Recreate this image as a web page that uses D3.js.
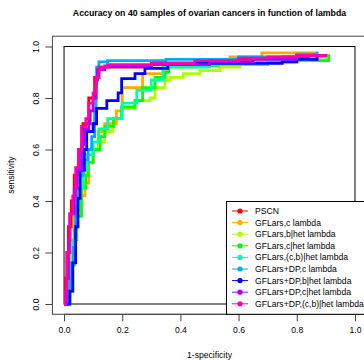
<!DOCTYPE html>
<html><head><meta charset="utf-8">
<script src="https://cdn.jsdelivr.net/npm/d3@7"></script>
<style>body{margin:0;background:#fff}svg{display:block}text{font-family:"Liberation Sans",Arial,Helvetica,sans-serif}</style>
</head><body><svg id="c" width="364" height="360"></svg>
<script>
const title = "Accuracy on 40 samples of ovarian cancers in function of lambda";
const xLabel = "1-specificity";
const yLabel = "sensitivity";
const tickValues = [0, 0.2, 0.4, 0.6, 0.8, 1.0];
const tickLabels = ["0.0", "0.2", "0.4", "0.6", "0.8", "1.0"];
const seriesNames = ["PSCN","GFLars,c lambda","GFLars,b|het lambda","GFLars,c|het lambda","GFLars,(c,b)|het lambda","GFLars+DP,c lambda","GFLars+DP,b|het lambda","GFLars+DP,c|het lambda","GFLars+DP,(c,b)|het lambda"];
const seriesColors = ["#FF0000","#FFAA00","#AAFF00","#00FF00","#00FFAA","#00AAFF","#0000FF","#AA00FF","#FF00AA"];

const pscn = [[0,0],[0.005,0.1],[0.01,0.2],[0.015,0.3],[0.025,0.4],[0.035,0.5],[0.05,0.6],[0.065,0.7],[0.085,0.8],[0.105,0.88],[0.12,0.92],[0.3,0.93],[0.45,0.94],[0.6,0.95],[0.75,0.96],[0.88,0.97]];
const gflarsC = [[0,0],[0.01,0.05],[0.02,0.2],[0.035,0.35],[0.05,0.42],[0.072,0.47],[0.085,0.55],[0.1,0.6],[0.117,0.67],[0.14,0.7],[0.18,0.75],[0.2,0.84],[0.27,0.895],[0.35,0.92],[0.45,0.94],[0.57,0.96],[0.68,0.975],[0.87,0.98]];
const gflarsB = [[0,0],[0.015,0.05],[0.025,0.15],[0.035,0.25],[0.045,0.35],[0.06,0.51],[0.08,0.55],[0.1,0.6],[0.12,0.63],[0.14,0.67],[0.168,0.72],[0.198,0.76],[0.244,0.79],[0.296,0.8],[0.313,0.84],[0.347,0.87],[0.364,0.88],[0.41,0.895],[0.467,0.906],[0.536,0.92],[0.605,0.933],[0.663,0.94],[0.787,0.946],[0.9,0.97]];
const gflarsCHet = [[0,0],[0.02,0.05],[0.03,0.15],[0.035,0.25],[0.043,0.34],[0.06,0.45],[0.075,0.5],[0.083,0.55],[0.1,0.6],[0.124,0.65],[0.14,0.69],[0.17,0.72],[0.198,0.765],[0.244,0.79],[0.27,0.84],[0.313,0.88],[0.347,0.9],[0.36,0.926],[0.53,0.935],[0.7,0.94],[0.8,0.945],[0.91,0.97]];
const gflarsCBHet = [[0,0],[0.01,0.05],[0.02,0.15],[0.03,0.25],[0.04,0.38],[0.05,0.45],[0.065,0.52],[0.08,0.58],[0.1,0.63],[0.12,0.68],[0.15,0.72],[0.2,0.78],[0.25,0.83],[0.3,0.87],[0.34,0.92],[0.5,0.93],[0.7,0.945],[0.85,0.96],[0.9,0.97]];
const dpC = [[0,0],[0.015,0.03],[0.02,0.1],[0.026,0.16],[0.032,0.22],[0.038,0.29],[0.04,0.38],[0.044,0.45],[0.055,0.5],[0.066,0.56],[0.083,0.6],[0.095,0.65],[0.105,0.75],[0.11,0.85],[0.112,0.92],[0.12,0.94],[0.15,0.945],[0.35,0.95],[0.6,0.96],[0.8,0.97],[0.87,0.98]];
const dpB = [[0,0],[0.02,0.05],[0.03,0.16],[0.04,0.3],[0.048,0.41],[0.055,0.52],[0.07,0.6],[0.078,0.67],[0.1,0.7],[0.112,0.76],[0.147,0.79],[0.186,0.82],[0.198,0.875],[0.244,0.895],[0.278,0.915],[0.357,0.935],[0.75,0.94],[0.8,0.95],[0.87,0.965]];
const dpCHet = [[0,0],[0.008,0.1],[0.015,0.25],[0.02,0.35],[0.035,0.45],[0.045,0.52],[0.06,0.62],[0.07,0.68],[0.085,0.7],[0.09,0.75],[0.1,0.8],[0.11,0.87],[0.115,0.91],[0.14,0.925],[0.3,0.93],[0.5,0.94],[0.65,0.95],[0.8,0.965],[0.9,0.97]];
const dpCBHet = [[0,0],[0.005,0.05],[0.01,0.2],[0.02,0.35],[0.03,0.42],[0.04,0.53],[0.05,0.6],[0.06,0.69],[0.075,0.72],[0.085,0.78],[0.1,0.82],[0.11,0.88],[0.12,0.92],[0.15,0.93],[0.3,0.935],[0.45,0.945],[0.6,0.955],[0.7,0.96],[0.8,0.965],[0.9,0.97]];
const seriesData = [pscn, gflarsC, gflarsB, gflarsCHet, gflarsCBHet, dpC, dpB, dpCHet, dpCBHet];

const svg = d3.select("#c");
const x = d3.scaleLinear().domain([-0.04, 1.04]).range([52.4, 366.6]);
const y = d3.scaleLinear().domain([-0.04, 1.04]).range([314.3, 36.2]);
const FS = 8.6;

// outer plot frame
svg.append("rect").attr("x", 52.4).attr("y", 36.2).attr("width", 314.2).attr("height", 278.1)
  .attr("fill", "none").attr("stroke", "#444").attr("stroke-width", 1);
// inner unit square
svg.append("rect").attr("x", x(0)).attr("y", y(1)).attr("width", x(1) - x(0)).attr("height", y(0) - y(1))
  .attr("fill", "none").attr("stroke", "#000").attr("stroke-width", 1);

// curves
const line = d3.line().x(d => x(d[0])).y(d => y(d[1])).curve(d3.curveStepAfter);
const g = svg.append("g");
seriesData.forEach((s, i) => {
  g.append("path").attr("d", line(s)).attr("fill", "none")
    .attr("stroke", seriesColors[i]).attr("stroke-width", 2.8).attr("stroke-linejoin", "miter");
});

// axes
const xAxis = svg.append("g").attr("transform", "translate(0,314.3)")
  .call(d3.axisBottom(x).tickValues(tickValues).tickFormat((d, i) => tickLabels[i]).tickSize(7).tickPadding(6));
const yAxis = svg.append("g").attr("transform", "translate(52.4,0)")
  .call(d3.axisLeft(y).tickValues(tickValues).tickFormat((d, i) => tickLabels[i]).tickSize(7).tickPadding(6));
[xAxis, yAxis].forEach(a => {
  a.select(".domain").remove();
  a.selectAll("line").attr("stroke", "#444");
  a.selectAll("text").attr("font-size", FS).attr("font-family", '"Liberation Sans",Arial,sans-serif').attr("fill", "#000");
});
xAxis.append("line").attr("x1", x(0)).attr("x2", x(1)).attr("stroke", "#444");
yAxis.append("line").attr("y1", y(0)).attr("y2", y(1)).attr("stroke", "#444");
yAxis.selectAll(".tick text").attr("x", null).attr("dy", null).attr("text-anchor", "middle")
  .attr("transform", "translate(-16,0) rotate(-90)").attr("dy", "0.35em");

// titles
const t = svg.append("text").attr("x", 209.5).attr("y", 16).attr("text-anchor", "middle")
  .attr("font-weight", "bold").attr("font-size", 10).text(title);
const tw = t.node().getComputedTextLength();
t.attr("font-size", 10 * 274 / tw);
svg.append("text").attr("x", 209.5).attr("y", 358).attr("text-anchor", "middle").attr("font-size", FS).text(xLabel);
svg.append("text").attr("transform", "translate(14,175) rotate(-90)").attr("text-anchor", "middle")
  .attr("font-size", FS).text(yLabel);

// legend
const lg = svg.append("g");
lg.append("rect").attr("x", 226.5).attr("y", 201.5).attr("width", 145).attr("height", 112.8)
  .attr("fill", "#fff").attr("stroke", "#000").attr("stroke-width", 1);
seriesNames.forEach((n, i) => {
  const yy = 211 + i * 11.6;
  lg.append("line").attr("x1", 232).attr("x2", 248).attr("y1", yy).attr("y2", yy)
    .attr("stroke", seriesColors[i]).attr("stroke-width", 1);
  lg.append("circle").attr("cx", 240).attr("cy", yy).attr("r", 2.6).attr("fill", seriesColors[i]);
  lg.append("text").attr("x", 255).attr("y", yy).attr("dy", "0.35em").attr("font-size", FS).text(n);
});
</script></body></html>
